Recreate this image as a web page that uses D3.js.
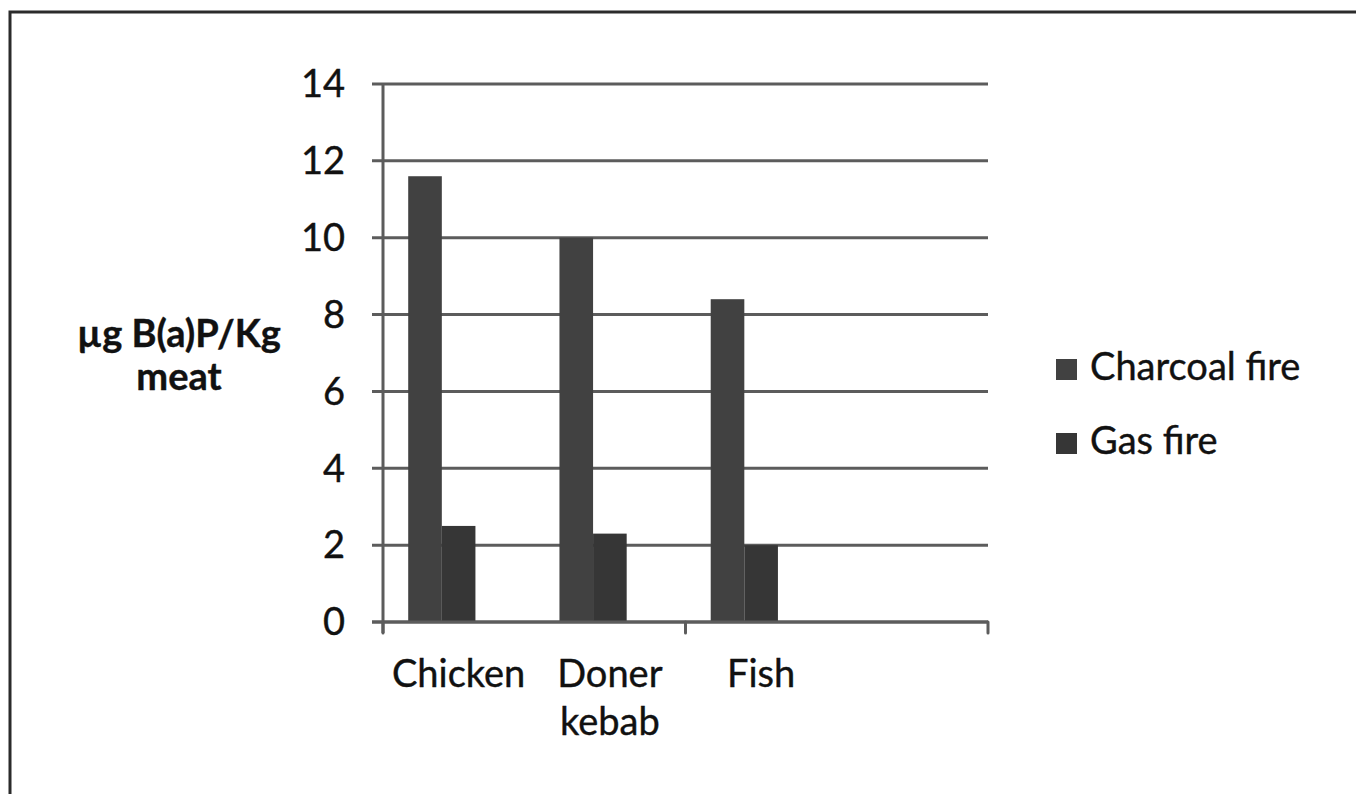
<!DOCTYPE html>
<html>
<head>
<meta charset="utf-8">
<script src="https://cdn.jsdelivr.net/npm/d3@7"></script>
<style>
  html, body { margin: 0; padding: 0; background: #ffffff; }
  svg { display: block; }
  text { font-family: Lato, "Open Sans", sans-serif; fill: #111; stroke: #111; stroke-width: 0.4px; }
</style>
</head>
<body>
<svg id="chart" width="1356" height="794"></svg>
<script>
// Benzo(a)pyrene content of grilled meat by fire type
const categories = ["Chicken", "Doner kebab", "Fish", ""];
const categoryLines = [["Chicken"], ["Doner", "kebab"], ["Fish"], []];
const seriesNames = ["Charcoal fire", "Gas fire", ""];
const charcoalFire = [11.6, 10.0, 8.4, null];
const gasFire = [2.5, 2.3, 2.0, null];
const emptySeries = [null, null, null, null];
const yTicks = [0, 2, 4, 6, 8, 10, 12, 14];
const yTitleLines = ["µg B(a)P/Kg", "meat"];
const seriesColors = ["#414141", "#363636", "none"];

const seriesValues = [charcoalFire, gasFire, emptySeries];

const svg = d3.select("#chart");
const W = 1356, H = 794;

// frame (left and top edges only are visible)
svg.append("path")
  .attr("d", `M10,${H} L10,12 L${W},12`)
  .attr("fill", "none")
  .attr("stroke", "#2b2b2b")
  .attr("stroke-width", 3);

const plot = { left: 383, right: 988, top: 84, bottom: 622 };

const y = d3.scaleLinear().domain([0, 14]).range([plot.bottom, plot.top]);
const x = d3.scaleBand().domain(categories.map((c, i) => i)).range([plot.left, plot.right]).paddingInner(0).paddingOuter(0);

// Excel-like grouping: gap width 150% between clusters
const gapRatio = 1.5;
const barW = x.bandwidth() / (seriesNames.length + gapRatio);
const xs = d3.scaleBand().domain(d3.range(seriesNames.length))
  .range([barW * gapRatio / 2, barW * gapRatio / 2 + barW * seriesNames.length]);

const axisColor = "#5c5c5c";

// horizontal gridlines
svg.append("g").selectAll("line").data(yTicks).join("line")
  .attr("x1", plot.left - 11).attr("x2", plot.right)
  .attr("y1", d => y(d)).attr("y2", d => y(d))
  .attr("stroke", axisColor).attr("stroke-width", 3);

// bars
categories.forEach((c, ci) => {
  seriesValues.forEach((vals, si) => {
    const v = vals[ci];
    if (v == null || seriesColors[si] === "none") return;
    svg.append("rect")
      .attr("x", x(ci) + xs(si))
      .attr("width", xs.bandwidth())
      .attr("y", y(v))
      .attr("height", y(0) - y(v))
      .attr("fill", seriesColors[si]);
  });
});

// y axis line
svg.append("line")
  .attr("x1", plot.left).attr("x2", plot.left)
  .attr("y1", plot.top).attr("y2", plot.bottom + 11)
  .attr("stroke", axisColor).attr("stroke-width", 3);

// x axis baseline
svg.append("line")
  .attr("x1", plot.left - 11).attr("x2", plot.right)
  .attr("y1", plot.bottom).attr("y2", plot.bottom)
  .attr("stroke", axisColor).attr("stroke-width", 3);

// category tick marks every second category
const tickCats = [0, 2, 4];
svg.append("g").selectAll("line").data(tickCats).join("line")
  .attr("x1", d => plot.left + d * x.step()).attr("x2", d => plot.left + d * x.step())
  .attr("y1", plot.bottom).attr("y2", plot.bottom + 11)
  .attr("stroke", axisColor).attr("stroke-width", 3)
  .attr("stroke-linecap", "round");

// y tick labels
svg.append("g").selectAll("text").data(yTicks).join("text")
  .attr("x", 345).attr("y", d => y(d))
  .attr("dy", "0.35em")
  .attr("text-anchor", "end")
  .style("font-size", "38px")
  .text(d => d);

// category labels
categoryLines.forEach((lines, ci) => {
  lines.forEach((ln, li) => {
    svg.append("text")
      .attr("x", x(ci) + x.bandwidth() / 2)
      .attr("y", 687 + li * 48)
      .attr("text-anchor", "middle")
      .style("font-size", "38px")
      .text(ln);
  });
});

// y axis title
yTitleLines.forEach((ln, i) => {
  svg.append("text")
    .attr("x", 179).attr("y", 347 + i * 43)
    .attr("text-anchor", "middle")
    .style("font-size", "38px")
    .style("font-weight", "bold")
    .text(ln);
});

// legend
const legendItems = seriesNames.map((n, i) => ({ name: n, color: seriesColors[i] })).filter(d => d.name);
const lg = svg.append("g").selectAll("g").data(legendItems).join("g")
  .attr("transform", (d, i) => `translate(1056, ${359 + i * 74})`);
lg.append("rect").attr("width", 21).attr("height", 21).attr("fill", d => d.color);
lg.append("text").attr("x", 34).attr("y", 21)
  .style("font-size", "38px")
  .text(d => d.name);
</script>
</body>
</html>
